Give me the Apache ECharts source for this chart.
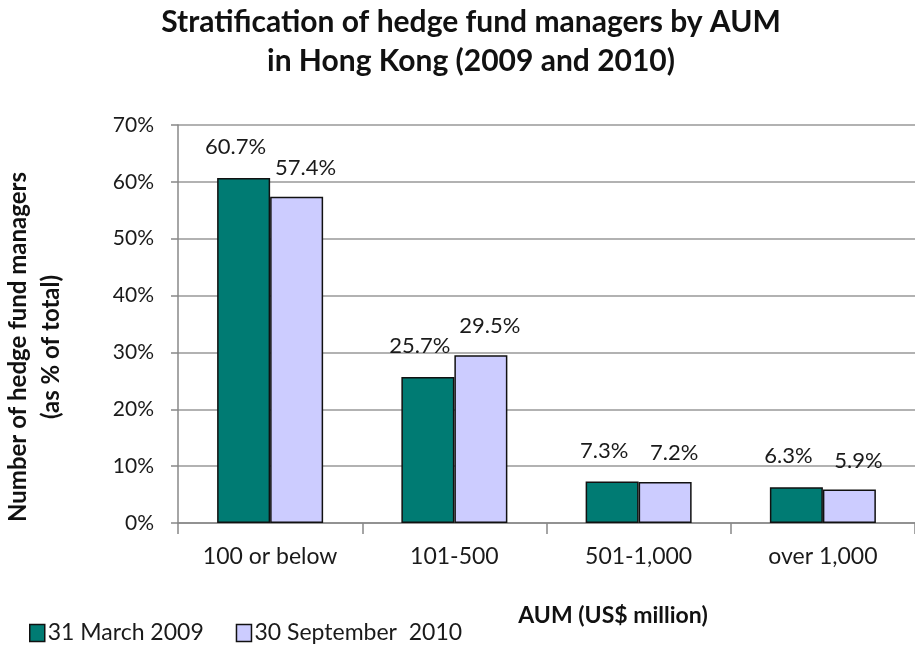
<!DOCTYPE html>
<html>
<head>
<meta charset="utf-8">
<script src="https://cdn.jsdelivr.net/npm/echarts@6/dist/echarts.min.js"></script>
<style>
  html, body { margin: 0; padding: 0; background: #fff; }
  #chart { width: 915px; height: 649px; }
</style>
</head>
<body>
<div id="chart"></div>
<script>
const categories = ['100 or below', '101-500', '501-1,000', 'over 1,000']
const march2009 = [60.7, 25.7, 7.3, 6.3]
const sept2010 = [57.4, 29.5, 7.2, 5.9]
const seriesNames = ['31 March 2009', '30 September  2010']

const font = 'Lato, "Open Sans", sans-serif'

const chart = echarts.init(document.getElementById('chart'))

// label text formatter
const pct = p => p.value.toFixed(1) + '%'

chart.setOption({
  animation: false,
  textStyle: { fontFamily: font, color: '#1a1a1a' },
  title: [
    {
      text: 'Stratification of hedge fund managers by AUM\nin Hong Kong (2009 and 2010)',
      left: 466,
      top: -2,
      textAlign: 'center',
      textStyle: { fontSize: 30, fontWeight: 'bold', lineHeight: 39, color: '#111', fontFamily: font }
    },
    {
      text: 'AUM (US$ million)',
      left: 608,
      top: 599,
      textAlign: 'center',
      textStyle: { fontSize: 23, fontWeight: 'bold', color: '#111', fontFamily: font }
    }
  ],
  graphic: [
    {
      type: 'text',
      x: 35,
      y: 347,
      rotation: Math.PI / 2,
      style: {
        text: 'Number of hedge fund managers\n(as % of total)',
        fontSize: 24,
        fontWeight: 'bold',
        fontFamily: font,
        lineHeight: 33,
        fill: '#111',
        align: 'center',
        verticalAlign: 'middle'
      }
    }
  ],
  legend: {
    left: 24,
    top: 616,
    padding: 5,
    itemWidth: 15,
    itemHeight: 17,
    itemGap: 32,
    textStyle: { fontSize: 23, lineHeight: 24, color: '#1a1a1a', fontFamily: font, padding: [0, 0, 0, -2] },
    data: seriesNames.map(n => ({
      name: n,
      icon: 'rect',
      itemStyle: { borderColor: '#111', borderWidth: 1.5 }
    }))
  },
  grid: {
    left: 178,
    right: -8,
    top: 125,
    bottom: 126
  },
  xAxis: {
    type: 'category',
    data: categories,
    axisLine: { lineStyle: { color: '#888', width: 1.5 } },
    axisTick: { show: true, length: 11, lineStyle: { color: '#888', width: 1.5 } },
    axisLabel: { fontSize: 23, color: '#1a1a1a', margin: 22, fontFamily: font }
  },
  yAxis: {
    type: 'value',
    min: 0,
    max: 70,
    interval: 10,
    axisLine: { show: true, lineStyle: { color: '#888', width: 1.5 } },
    axisTick: { show: true, inside: false, length: 7, lineStyle: { color: '#888', width: 1.5 } },
    axisLabel: { formatter: '{value}%', fontSize: 21, color: '#1a1a1a', margin: 24, fontFamily: font },
    splitLine: { lineStyle: { color: '#999', width: 1.5 } }
  },
  series: [
    {
      name: seriesNames[0],
      type: 'bar',
      data: march2009,
      barWidth: 53,
      barGap: '0%',
      itemStyle: { color: '#007B73', borderColor: '#111', borderWidth: 1.5 },
      label: {
        show: true,
        position: 'top',
        distance: 20,
        offset: [-8, 0],
        formatter: pct,
        fontSize: 22,
        color: '#1a1a1a',
        fontFamily: font
      }
    },
    {
      name: seriesNames[1],
      type: 'bar',
      data: sept2010,
      barWidth: 53,
      itemStyle: { color: '#CCCCFF', borderColor: '#111', borderWidth: 1.5 },
      label: {
        show: true,
        position: 'top',
        distance: 18,
        offset: [9, 0],
        formatter: pct,
        fontSize: 22,
        color: '#1a1a1a',
        fontFamily: font
      }
    }
  ]
})
</script>
</body>
</html>
